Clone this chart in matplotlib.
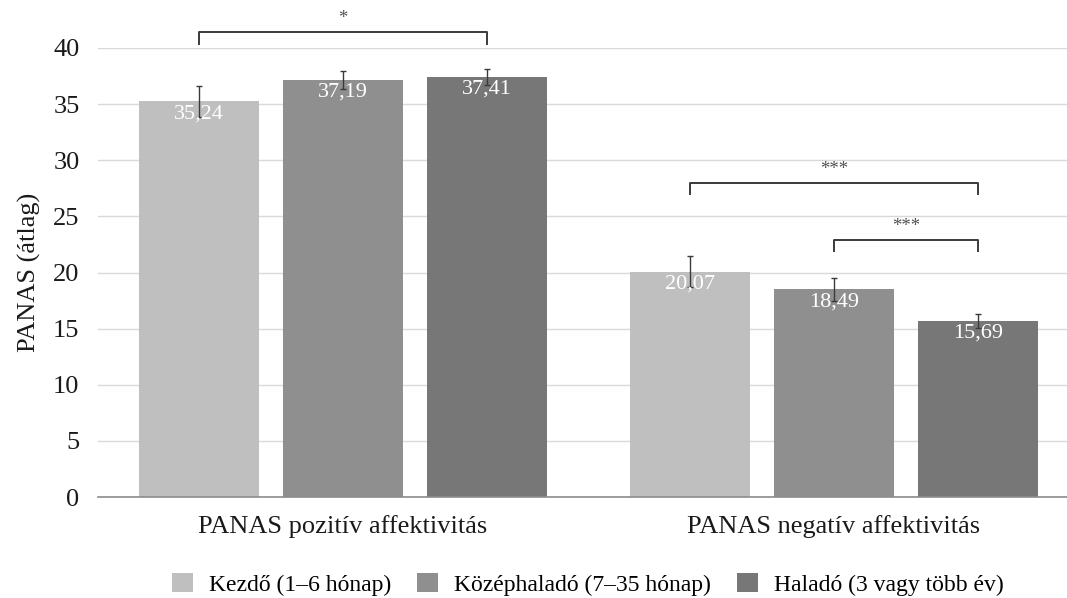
import numpy as np
import matplotlib.pyplot as plt

plt.rcParams['font.family'] = ['Liberation Serif', 'DejaVu Serif']

# data
categories = ['PANAS pozitív affektivitás', 'PANAS negatív affektivitás']
groups = ['Kezdő (1–6 hónap)', 'Középhaladó (7–35 hónap)', 'Haladó (3 vagy több év)']
means = [[35.24, 20.07], [37.19, 18.49], [37.41, 15.69]]
errors = [[1.35, 1.4], [0.8, 1.05], [0.75, 0.65]]
labels = [['35,24', '20,07'], ['37,19', '18,49'], ['37,41', '15,69']]
colors = ['#bfbfbf', '#8f8f8f', '#777777']

# significance brackets: (category, group a, group b, y, stars)
brackets = [(0, 0, 2, 41.4, '*'), (1, 0, 2, 27.95, '***'), (1, 1, 2, 22.9, '***')]

fig = plt.figure(figsize=(10.67, 5.98), dpi=100)
ax = fig.add_axes([97.5 / 1067, 1 - 497 / 598, 1 - 97.5 / 1067, (497 - 48) / 598])

x = np.arange(len(categories))
width = 0.243
step = 0.293

for i, g in enumerate(groups):
    xs = x + (i - 1) * step
    ax.bar(xs, means[i], width, color=colors[i], label=g, zorder=2)
    ax.errorbar(xs, means[i], yerr=errors[i], fmt='none', ecolor='#3a3a3a',
                elinewidth=1, capsize=2, capthick=1, zorder=3)
    for xv, yv, t in zip(xs, means[i], labels[i]):
        ax.annotate(t, (xv, yv), xytext=(0, -2), textcoords='offset points',
                    ha='center', va='top', color='white', fontsize=16, zorder=4)

for c, a, b, y, s in brackets:
    x1 = c + (a - 1) * step
    x2 = c + (b - 1) * step
    ax.plot([x1, x1, x2, x2], [y - 1.0, y, y, y - 1.0], color='#3a3a3a',
            lw=1.4, clip_on=False, zorder=3)
    ax.text((x1 + x2) / 2, y + 0.45, s, ha='center', va='bottom',
            fontsize=13.5, color='#505050')

ax.set_ylim(0, 40)
ax.set_xlim(-0.5, 1.4745)
ax.set_yticks(range(0, 41, 5))
ax.set_xticks(x)
ax.set_xticklabels(categories)
ax.yaxis.grid(True, color='#d9d9d9', lw=1, zorder=0)
ax.set_axisbelow(True)
for s in ['top', 'right', 'left']:
    ax.spines[s].set_visible(False)
ax.spines['bottom'].set_color('#8c8c8c')
ax.spines['bottom'].set_linewidth(1.2)
ax.tick_params(axis='both', length=0, labelsize=19, colors='#1a1a1a')
ax.tick_params(axis='y', pad=13)
ax.tick_params(axis='x', pad=13)
ax.set_ylabel('PANAS (átlag)', fontsize=19, color='#1a1a1a', labelpad=9)

fig.legend(loc='center', bbox_to_anchor=(0.551, 0.023), ncol=3, frameon=False,
           fontsize=17, handlelength=0.89, handleheight=0.85, handletextpad=0.68,
           columnspacing=1.1, borderpad=0)

fig.savefig('out.png', dpi=100)
